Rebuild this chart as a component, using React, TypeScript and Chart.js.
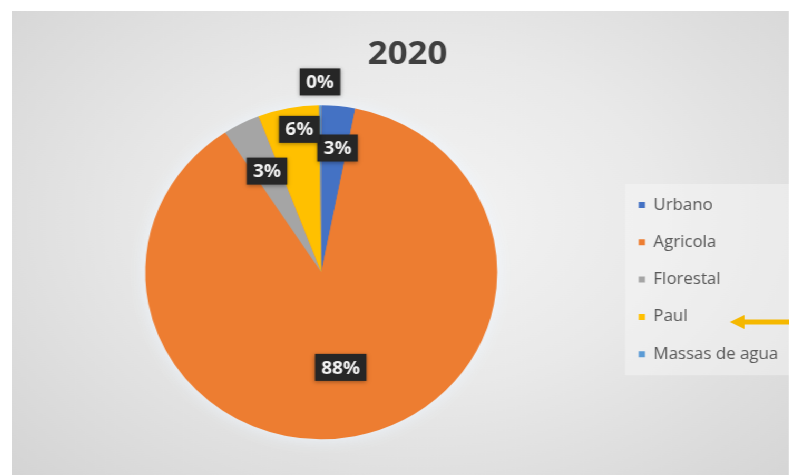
import React, { useEffect, useRef } from "react";
import { Chart, registerables } from "chart.js";

Chart.register(...registerables);

const chartTitle = "2020";
const categories = ["Urbano", "Agricola", "Florestal", "Paul", "Massas de agua"];
const shares = [3.1, 87.7, 3.4, 5.6, 0.2];
const sliceColors = ["#4472C4", "#ED7D31", "#A5A5A5", "#FFC000", "#5B9BD5"];
// label placement (style): radial fraction of radius, angular nudge in degrees
const labelRadius = [0.75, 0.58, 0.68, 0.865, 1.14];
const labelNudgeDeg = [1.5, 0, 0, 2.5, 0];

const SCALE_X = 1.054;
const W = 737;
const H = 464;

const glowPlugin = {
  id: "pieGlow",
  beforeDatasetsDraw(chart: any) {
    const arc = chart.getDatasetMeta(0).data[0];
    if (!arc) return;
    const { x, y, outerRadius } = arc.getProps(["x", "y", "outerRadius"], true);
    const ctx = chart.ctx;
    ctx.save();
    ctx.shadowColor = "rgba(238,246,255,1)";
    ctx.shadowBlur = 18;
    ctx.fillStyle = "#ED7D31";
    ctx.beginPath();
    ctx.arc(x, y, outerRadius - 1, 0, Math.PI * 2);
    ctx.fill();
    ctx.restore();
  },
};

const legendBgPlugin = {
  id: "legendBg",
  beforeDraw(chart: any) {
    const hb = chart.legend && chart.legend.legendHitBoxes;
    if (!hb || !hb.length) return;
    const ctx = chart.ctx;
    const first = hb[0];
    const last = hb[hb.length - 1];
    const x0 = first.left - 13;
    const y0 = first.top - 13;
    const y1 = last.top + last.height + 13;
    ctx.save();
    ctx.fillStyle = "rgba(250,250,250,0.4)";
    ctx.fillRect(x0, y0, chart.width - x0, y1 - y0);
    ctx.restore();
  },
};

const dataLabelPlugin = {
  id: "darkLabels",
  afterDatasetsDraw(chart: any) {
    const meta = chart.getDatasetMeta(0);
    const values: number[] = chart.data.datasets[0].data;
    const total = values.reduce((a, b) => a + b, 0);
    const ctx = chart.ctx;
    ctx.save();
    ctx.font = "bold 18px 'Open Sans'";
    ctx.textAlign = "center";
    ctx.textBaseline = "middle";
    meta.data.forEach((arc: any, i: number) => {
      const { x, y, startAngle, endAngle, outerRadius } = arc.getProps(
        ["x", "y", "startAngle", "endAngle", "outerRadius"],
        true
      );
      const mid = (startAngle + endAngle) / 2 + (labelNudgeDeg[i] * Math.PI) / 180;
      const r = outerRadius * labelRadius[i];
      const cx = x + Math.cos(mid) * r;
      const cy = y + Math.sin(mid) * r;
      const text = Math.round((values[i] / total) * 100) + "%";
      const tw = ctx.measureText(text).width;
      const bw = tw + 12;
      const bh = 27;
      ctx.save();
      ctx.shadowColor = "rgba(0,0,0,0.35)";
      ctx.shadowBlur = 4;
      ctx.shadowOffsetY = 1;
      ctx.fillStyle = "#262626";
      ctx.fillRect(cx - bw / 2, cy - bh / 2, bw, bh);
      ctx.restore();
      ctx.fillStyle = "#f2f2f2";
      ctx.fillText(text, cx, cy + 1);
    });
    ctx.restore();
  },
};

const arrowPlugin = {
  id: "paulArrow",
  afterDraw(chart: any) {
    const hb = chart.legend && chart.legend.legendHitBoxes;
    if (!hb || hb.length < 4) return;
    const item = hb[3];
    const y = item.top + item.height / 2 + 5;
    const tip = chart.width - 56;
    const ctx = chart.ctx;
    ctx.save();
    ctx.fillStyle = "#F5B800";
    ctx.strokeStyle = "#F5B800";
    ctx.lineWidth = 5;
    ctx.beginPath();
    ctx.moveTo(tip + 10, y);
    ctx.lineTo(chart.width, y);
    ctx.stroke();
    ctx.beginPath();
    ctx.moveTo(tip, y);
    ctx.lineTo(tip + 14, y - 7);
    ctx.lineTo(tip + 14, y + 7);
    ctx.closePath();
    ctx.fill();
    ctx.restore();
  },
};

export default function App() {
  const canvasRef = useRef<HTMLCanvasElement | null>(null);

  useEffect(() => {
    document.documentElement.style.overflow = "hidden";
    document.body.style.overflow = "hidden";
    const canvas = canvasRef.current;
    if (!canvas) return;
    const chart = new Chart(canvas, {
      type: "pie",
      data: {
        labels: categories,
        datasets: [
          {
            data: shares,
            backgroundColor: sliceColors,
            borderWidth: 0,
            radius: 167,
          } as any,
        ],
      },
      options: {
        animation: false,
        responsive: false,
        maintainAspectRatio: false,
        layout: { padding: { left: 13.6, right: 0, top: 0, bottom: 4.4 } },
        plugins: {
          title: {
            display: true,
            text: chartTitle,
            color: "#404040",
            font: { family: "'Open Sans'", size: 33, weight: "bold" },
            padding: { top: 23.4, bottom: 0 },
          },
          legend: {
            display: true,
            position: "right",
            align: "center",
            fullSize: false,
            title: {
              display: true,
              text: "",
              font: { size: 1 },
              padding: { top: 13.4, bottom: 0 },
            },
            labels: {
              boxWidth: 6,
              boxHeight: 6,
              padding: 21.3,
              color: "#595959",
              font: { family: "'Open Sans'", size: 16 },
            },
          },
          tooltip: { enabled: false },
        },
      },
      plugins: [legendBgPlugin, glowPlugin, dataLabelPlugin, arrowPlugin],
    });
    return () => chart.destroy();
  }, []);

  return (
    <div
      style={{
        position: "absolute",
        left: 12,
        top: 11,
        width: W,
        height: H,
        transform: `scaleX(${SCALE_X})`,
        transformOrigin: "0 0",
        background:
          "radial-gradient(ellipse 72% 80% at 52% 45%, #f4f4f4 0%, #e9e9e9 45%, #d4d4d4 100%)",
      }}
    >
      <canvas ref={canvasRef} width={W} height={H} style={{ width: W, height: H, display: "block" }} />
    </div>
  );
}
